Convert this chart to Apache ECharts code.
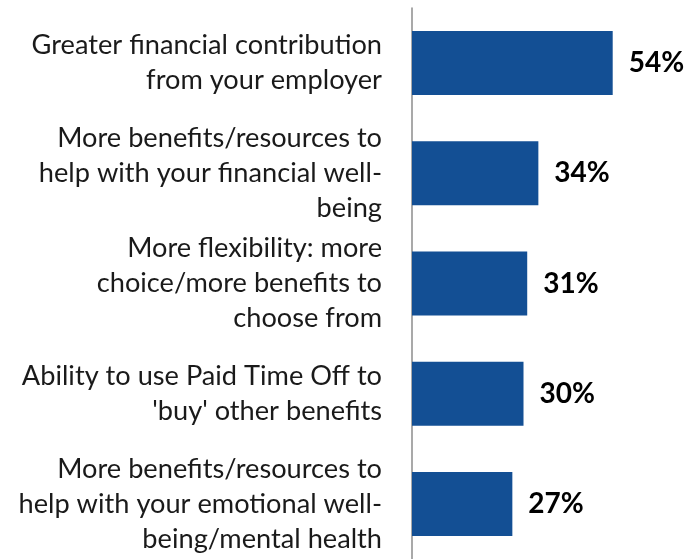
<!DOCTYPE html>
<html>
<head>
<meta charset="utf-8">
<script src="https://cdn.jsdelivr.net/npm/echarts@6/dist/echarts.min.js"></script>
<style>
  html, body { margin: 0; padding: 0; background: #fff; }
  #chart { width: 693px; height: 559px; }
</style>
</head>
<body>
<div id="chart"></div>
<script>
// ==============================
// data
// ==============================
const categories = [
  'Greater financial contribution\nfrom your employer',
  'More benefits/resources to\nhelp with your financial well-\nbeing',
  'More flexibility: more\nchoice/more benefits to\nchoose from',
  "Ability to use Paid Time Off to\n'buy' other benefits",
  'More benefits/resources to\nhelp with your emotional well-\nbeing/mental health'
];
const values = [54, 34, 31, 30, 27];

const barColor = '#134F94';

// ==============================
// chart
// ==============================
const chart = echarts.init(document.getElementById('chart'));

chart.setOption({
  animation: false,
  grid: {
    left: 412,
    right: 58,
    top: 8,
    bottom: -6,
    containLabel: false
  },
  xAxis: {
    type: 'value',
    min: 0,
    max: 60,
    show: false
  },
  yAxis: {
    type: 'category',
    data: categories,
    inverse: true,
    axisTick: { show: false },
    axisLine: { show: true, lineStyle: { color: '#8c8c8c', width: 1.5 } },
    axisLabel: {
      color: '#1a1a1a',
      fontSize: 27.2,
      fontFamily: 'Lato',
      lineHeight: 35,
      align: 'right',
      margin: 30
    }
  },
  series: [
    {
      type: 'bar',
      data: values,
      barWidth: 64,
      itemStyle: { color: barColor },
      label: {
        show: true,
        position: 'right',
        distance: 16,
        formatter: '{c}%',
        color: '#000',
        fontSize: 28,
        fontWeight: 'bold',
        fontFamily: 'Lato'
      }
    }
  ]
});
</script>
</body>
</html>
